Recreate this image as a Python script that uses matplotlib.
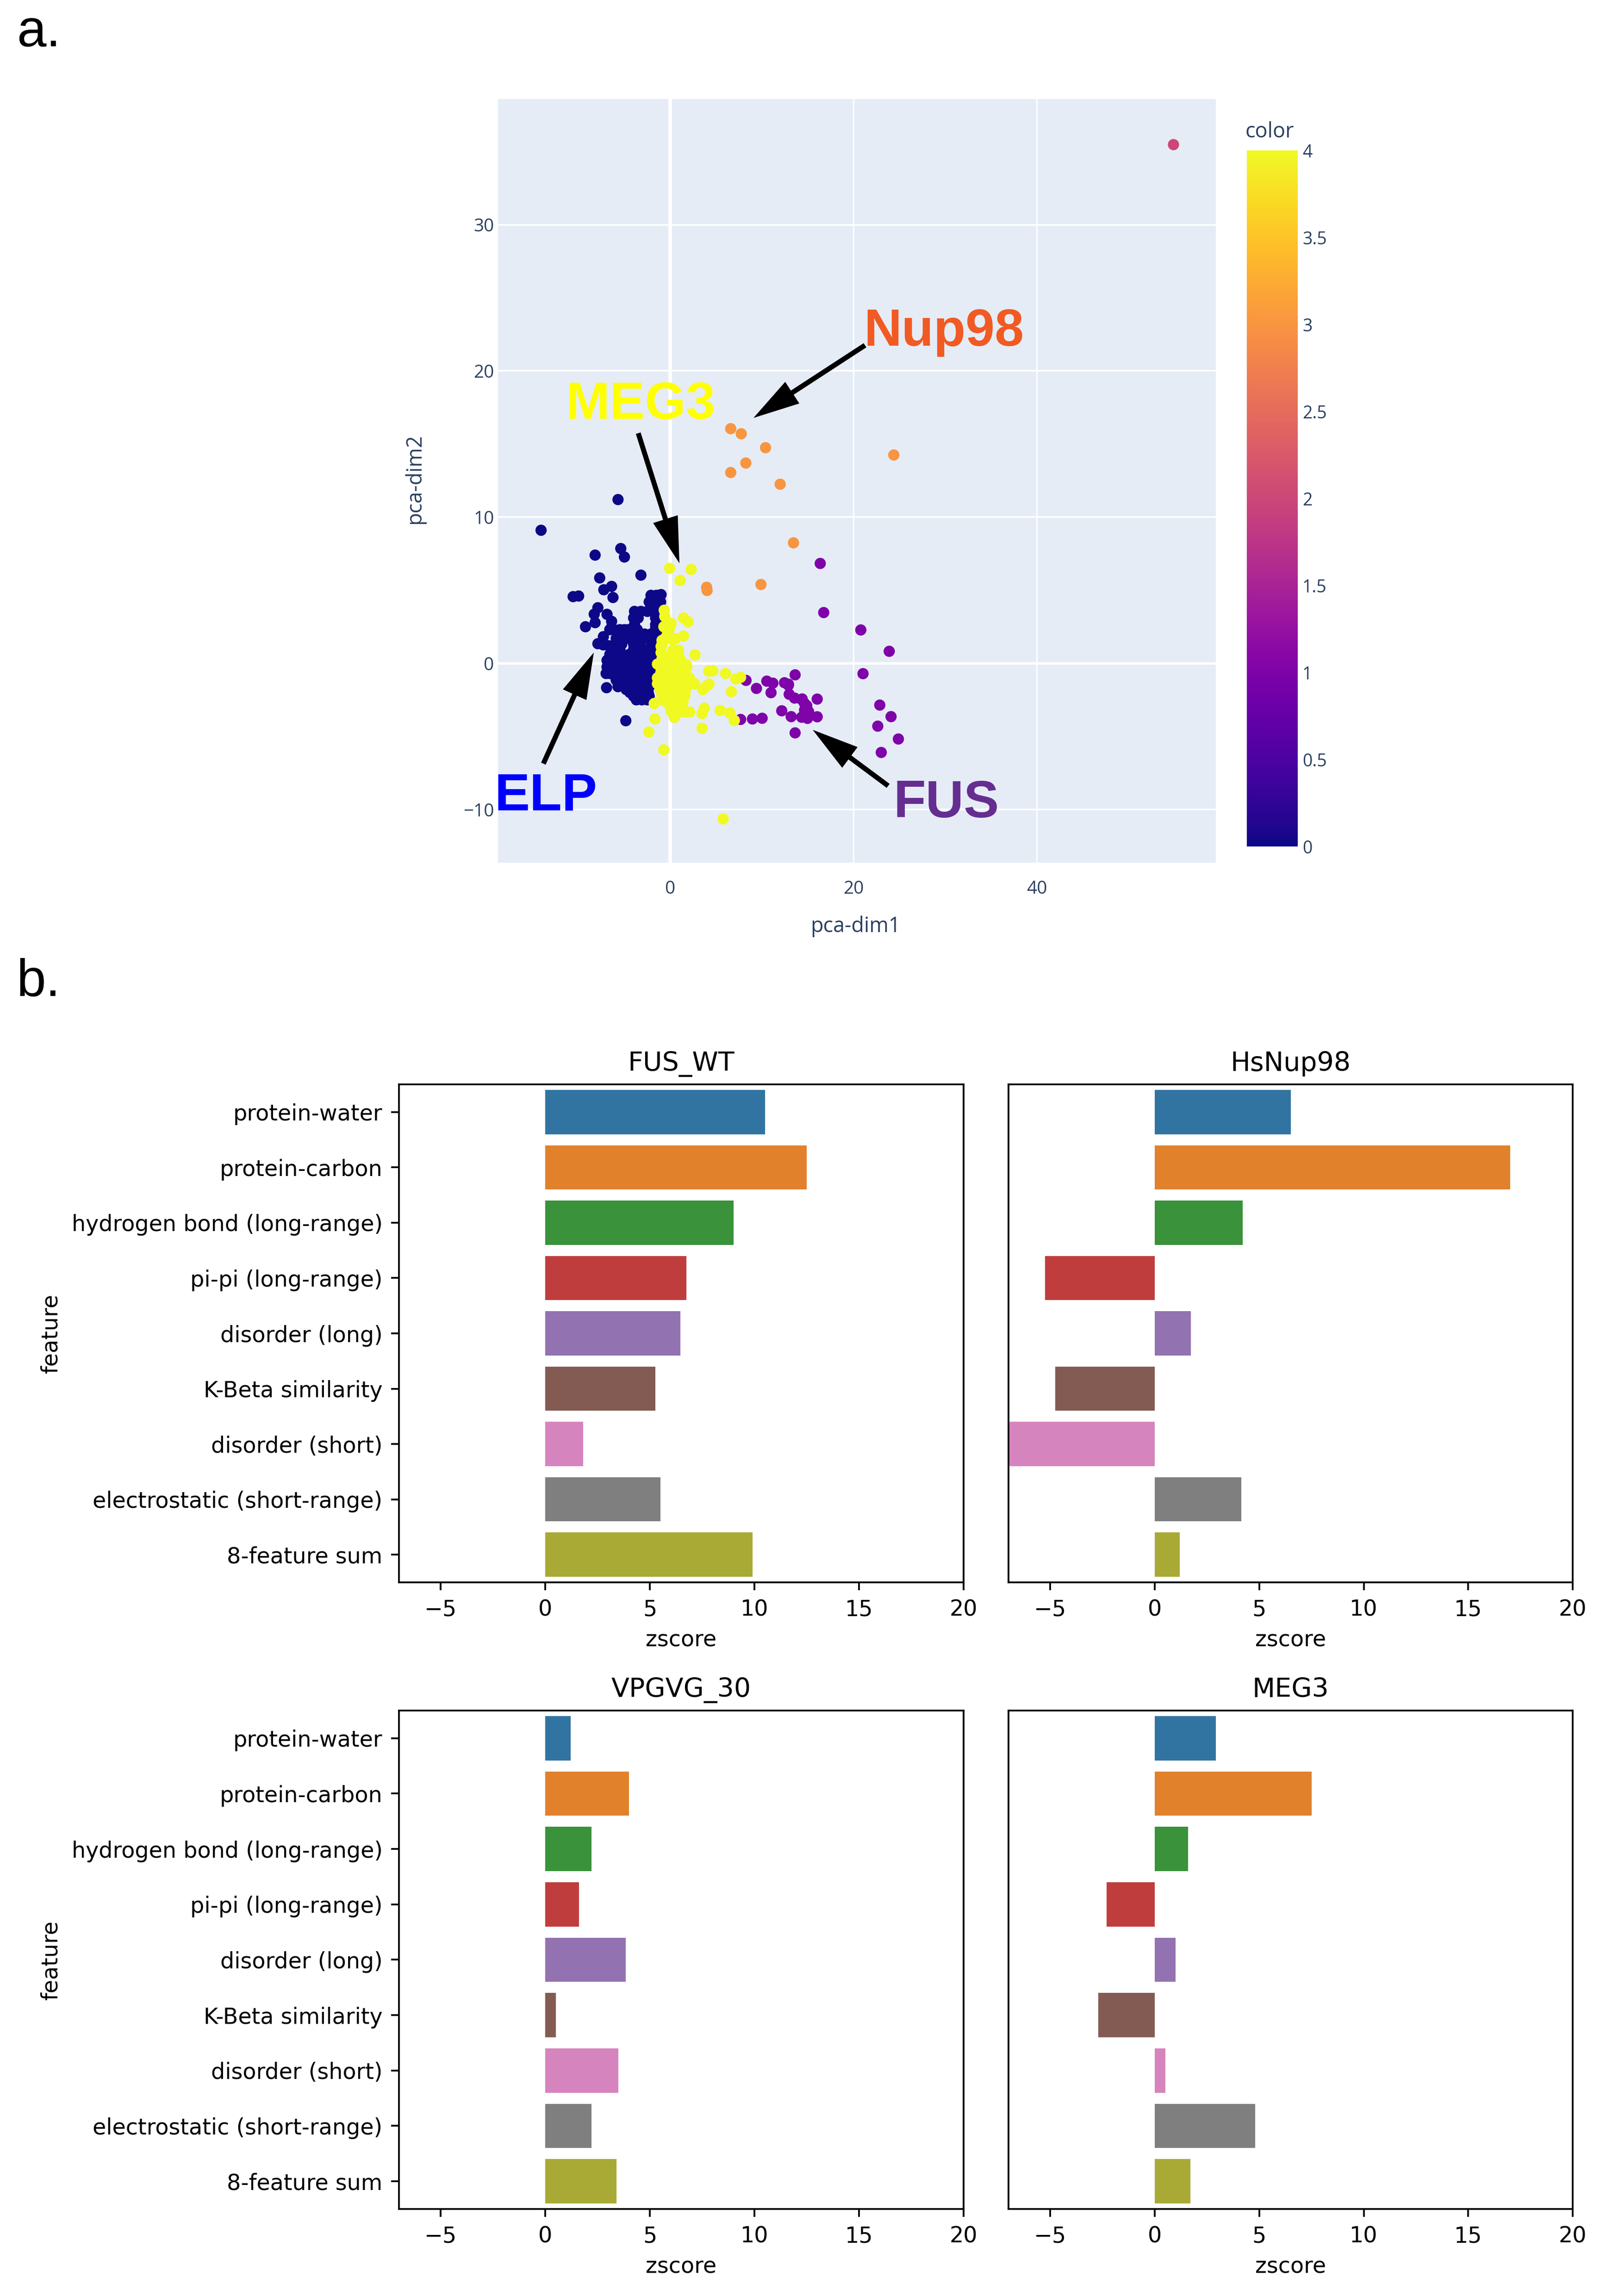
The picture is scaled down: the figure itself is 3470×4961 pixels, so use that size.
import matplotlib
matplotlib.use('Agg')
import matplotlib.pyplot as plt
import seaborn as sns
import numpy as np
from matplotlib.cm import ScalarMappable
from matplotlib.colors import Normalize
from matplotlib.patches import FancyArrowPatch

W, H = 3470, 4961

# ---- panel a: points, one pair of lists per group ----
elp_x = [-5.7, -14.1, -8.2, -5.4, -5.0, -3.2, -7.7, -6.4, -7.25, -10.6, -10.0, -6.25,
         -7.9, -8.3, -8.2, -9.25, -6.9, -6.4, -6.4, -6.6, -6.95, -4.85, -7.3, -7.9, -7.3, -6.7,
         -2.1, -1.5, -1.0, -2.3, -1.7, -1.05,
         -3.9, -3.2, -2.5, -1.8, -1.5, -4.0, -3.5, -1.6, -1.2, -3.9, -1.6, -3.9, -1.6,
         -5.6, -4.9, -4.2, -3.5, -2.8, -2.1, -1.4, -1.0,
         -5.9, -5.2, -4.5, -3.8, -3.1, -2.4, -1.7, -5.9, -5.3, -4.0, -3.3, -2.0,
         -6.2, -5.5, -4.0, -3.3, -2.6, -1.9, -6.6, -5.9, -5.2, -4.5, -3.8, -3.1, -2.4, -1.9,
         -6.9, -6.2, -5.5, -4.8, -4.1, -3.4, -2.7, -2.1, -6.9, -6.2, -5.5, -4.8, -4.1, -3.4, -2.6,
         -7.0, -6.6, -5.9, -5.2, -4.5, -3.8, -3.1, -2.4, -1.9,
         -5.9, -5.2, -4.5, -3.8, -3.1, -2.4, -1.9, -5.7, -5.0, -4.3, -3.6, -2.9, -2.3,
         -4.4, -3.7, -3.0, -2.4, -3.7, -3.1, -2.5,
         -5.5, -5.0, -4.6, -4.1, -3.6, -6.5, -5.8, -5.1, -4.4, -3.7, -3.0, -2.3,
         -6.5, -5.8, -5.1, -4.4, -3.7, -3.0, -2.3, -6.0, -5.4, -4.7, -4.0, -3.3, -2.6, -2.1,
         -5.3, -4.6, -3.9, -3.2, -2.5, -4.8, -4.0, -3.3, -2.6, -4.0, -3.4, -2.8, -2.3]
elp_y = [11.2, 9.1, 7.4, 7.85, 7.27, 6.03, 5.84, 5.26, 5.03, 4.56, 4.6, 4.5,
         3.8, 3.36, 2.78, 2.5, 3.35, 2.87, 2.47, 2.3, -1.67, -3.93, 1.82, 1.34, 1.26, 1.2,
         4.65, 4.65, 4.7, 4.2, 4.2, 4.2,
         3.55, 3.55, 3.55, 3.55, 3.55, 3.1, 3.1, 3.1, 3.1, 2.65, 2.65, 2.4, 2.4,
         2.0, 2.0, 2.0, 2.0, 2.0, 2.0, 2.0, 2.0,
         1.7, 1.7, 1.7, 1.7, 1.7, 1.7, 1.7, 1.3, 1.3, 1.3, 1.3, 1.3,
         0.95, 0.95, 0.95, 0.95, 0.95, 0.95, 0.6, 0.6, 0.6, 0.6, 0.6, 0.6, 0.6, 0.6,
         0.2, 0.2, 0.2, 0.2, 0.2, 0.2, 0.2, 0.2, -0.25, -0.25, -0.25, -0.25, -0.25, -0.25, -0.25,
         -0.7, -0.7, -0.7, -0.7, -0.7, -0.7, -0.7, -0.7, -0.7,
         -1.15, -1.15, -1.15, -1.15, -1.15, -1.15, -1.15, -1.6, -1.6, -1.6, -1.6, -1.6, -1.6,
         -2.0, -2.0, -2.0, -2.0, -2.5, -2.5, -2.5,
         2.3, 2.3, 2.3, 2.3, 2.3, 0.0, 0.0, 0.0, 0.0, 0.0, 0.0, 0.0,
         -0.45, -0.45, -0.45, -0.45, -0.45, -0.45, -0.45, -0.9, -0.9, -0.9, -0.9, -0.9, -0.9, -0.9,
         -1.35, -1.35, -1.35, -1.35, -1.35, -1.8, -1.8, -1.8, -1.8, -2.25, -2.25, -2.25, -2.25]

fus_x = [16.37, 16.75, 20.8, 23.9, 21.04, 22.87, 24.1, 22.65, 24.9, 23.03, 13.63, 8.27, 9.41, 10.54, 11.2, 11.0,
         12.47, 12.9, 12.9, 12.98, 13.57, 14.4, 16.04, 14.34, 14.66, 14.66, 12.17, 13.2, 14.34, 14.98, 16.04, 7.68,
         8.97, 10.03, 13.63, 14.9, 15.1]
fus_y = [6.83, 3.47, 2.28, 0.82, -0.71, -2.86, -3.65, -4.3, -5.18, -6.1, -0.79, -1.17, -1.72, -1.22, -1.36, -2.01,
         -1.33, -1.43, -1.5, -2.12, -2.38, -2.44, -2.45, -2.48, -2.75, -3.2, -3.25, -3.65, -3.69, -3.77, -3.66, -3.84,
         -3.81, -3.76, -4.76, -2.9, -3.3]

nup_x = [6.6, 7.75, 10.4, 8.25, 6.6, 12.0, 24.4, 13.45, 9.9, 3.97, 4.02]
nup_y = [16.05, 15.7, 14.75, 13.7, 13.05, 12.25, 14.25, 8.24, 5.39, 5.2, 4.98]

pink_x = [54.9]
pink_y = [35.5]

meg_x = [-0.07, 2.29, 1.08, -0.66, -0.32, 0.1, 1.45, 1.95, 1.45, 0.52, -0.9, -0.32, -0.07, -1.0, 2.71,
         -1.0, -0.07, 0.94, -1.4, -0.4, 0.6, 1.78, 1.1,
         4.2, 4.65, 6.04, 7.17, 7.68, 3.89, 4.23, 3.55, 6.67,
         -1.0, -0.3, 0.4, 1.0, -1.4, -0.7, 0.0, 0.7, 1.4, 2.1, -1.4, -0.7, 0.0, 0.7, 1.4, 2.1, 2.65,
         -1.1, -0.4, 0.3, 1.0, 1.7, -0.9, -0.2, 0.5, 1.2, 1.6, -0.6, 0.1, 0.8, 1.4,
         -1.75, -1.67, -2.34, -0.69, 5.78, 3.47, 0.44, 0.1, 0.94, 2.12, 1.6, 3.72, 3.47, 5.45, 6.5, 7.0, 0.44, 0.0,
         -0.6, -0.7, -0.2, -0.9, -0.5, 0.2, 0.3, 0.9, -0.9, -0.2, 0.5, 1.1, -1.0, -0.3, 0.4, 1.1, 1.8,
         -1.1, -0.4, 0.3, 1.0, 1.7, -0.8, -0.1, 0.6, 1.3, -0.5, 0.2, 0.9, 0.2, 1.3]
meg_y = [6.5, 6.42, 5.66, 3.63, 2.84, 2.73, 3.1, 2.84, 1.87, 1.68, 1.57, 2.2, 2.4, 1.15, 0.57,
         0.73, 0.52, 0.46, -0.06, 0.0, 0.0, -0.12, -0.05,
         -0.54, -0.52, -0.7, -1.07, -0.96, -1.6, -1.43, -1.8, -1.94,
         -0.55, -0.55, -0.55, -0.55, -1.0, -1.0, -1.0, -1.0, -1.0, -1.0, -1.4, -1.4, -1.4, -1.4, -1.4, -1.4, -1.4,
         -1.8, -1.8, -1.8, -1.8, -1.8, -2.2, -2.2, -2.2, -2.2, -2.2, -2.6, -2.6, -2.6, -2.6,
         -2.75, -3.81, -4.7, -5.92, -10.65, -4.44, -3.7, -3.28, -3.33, -3.33, -3.33, -3.07, -3.44, -3.23, -3.39, -3.91,
         -2.96, -2.9,
         3.2, 2.5, 2.0, 1.3, 1.75, 1.6, 0.9, 0.9, 0.3, 0.3, 0.3, 0.3, -0.25, -0.25, -0.25, -0.25, -0.25,
         -0.8, -0.8, -0.8, -0.8, -0.8, -1.6, -1.6, -1.6, -1.6, -2.4, -2.4, -2.4, -3.0, -2.95]

# group value on the colour scale, drawing order as in the picture
groups = [(elp_x, elp_y, 0), (fus_x, fus_y, 1), (nup_x, nup_y, 3), (pink_x, pink_y, 2), (meg_x, meg_y, 4)]

cbar_ticks = [0, 0.5, 1, 1.5, 2, 2.5, 3, 3.5, 4]
cbar_labels = ['0', '0.5', '1', '1.5', '2', '2.5', '3', '3.5', '4']

# ---- panel b ----
features = ['protein-water', 'protein-carbon', 'hydrogen bond (long-range)', 'pi-pi (long-range)',
            'disorder (long)', 'K-Beta similarity', 'disorder (short)', 'electrostatic (short-range)',
            '8-feature sum']
fus_wt = [10.5, 12.5, 9.0, 6.75, 6.45, 5.25, 1.8, 5.5, 9.9]
hs_nup98 = [6.5, 17.0, 4.2, -5.24, 1.73, -4.76, -7.2, 4.14, 1.2]
vpgvg_30 = [1.2, 4.0, 2.2, 1.6, 3.85, 0.5, 3.5, 2.2, 3.4]
meg3 = [2.93, 7.5, 1.6, -2.3, 1.0, -2.7, 0.5, 4.8, 1.7]

plt.rcParams['font.family'] = ['DejaVu Sans']
plt.rcParams['font.size'] = 11.45
plt.rcParams['axes.linewidth'] = 0.9
plt.rcParams['xtick.major.size'] = 4
plt.rcParams['ytick.major.size'] = 4
plt.rcParams['xtick.major.width'] = 0.9
plt.rcParams['ytick.major.width'] = 0.9
plt.rcParams['xtick.major.pad'] = 4.5
plt.rcParams['ytick.major.pad'] = 4.5

fig = plt.figure(figsize=((W + 0.01) / 300, (H + 0.01) / 300), dpi=300)


def rect(left, top, right, bottom):
    return [left / W, 1 - bottom / H, (right - left) / W, (bottom - top) / H]


def put(x, y, s, **kw):
    return fig.text(x / W, 1 - y / H, s, **kw)


def arrow(x0, y0, x1, y1, tail=2.6):
    style = 'simple,head_length=24,head_width=13.4,tail_width=%s' % tail
    fig.add_artist(FancyArrowPatch((x0 / W, 1 - y0 / H), (x1 / W, 1 - y1 / H), transform=fig.transFigure,
                                   arrowstyle=style, mutation_scale=1, color='black', lw=0,
                                   shrinkA=0, shrinkB=0))


# panel a
plotly_font = 'Open Sans'
plotly_ink = '#2a3f5f'
ax = fig.add_axes(rect(1076, 214, 2627, 1864))
ax.set_facecolor('#e5ecf6')
for s in ax.spines.values():
    s.set_visible(False)
ax.set_xlim(-18.8, 59.55)
ax.set_ylim(-13.64, 38.6)
ax.set_xticks([0, 20, 40])
ax.set_yticks([-10, 0, 10, 20, 30])
ax.set_yticklabels(['\u221210', '0', '10', '20', '30'])
ax.tick_params(length=0, labelsize=9.3, labelcolor=plotly_ink, pad=2)
ax.tick_params(axis='x', pad=9)
for lab in ax.get_xticklabels() + ax.get_yticklabels():
    lab.set_family(plotly_font)
ax.set_axisbelow(True)
ax.grid(True, axis='x', color='white', lw=0.7)
ax.grid(True, axis='y', color='white', lw=0.85)
ax.axvline(0, color='white', lw=1.9, zorder=1)
ax.axhline(0, color='white', lw=1.3, zorder=1)
for xs, ys, val in groups:
    ax.scatter(xs, ys, c=np.full(len(xs), val), cmap='plasma', vmin=0, vmax=4, s=34, lw=0, zorder=3)

put(1848, 2002, 'pca-dim1', family=plotly_font, size=10.8, color=plotly_ink, ha='center', va='center')
put(896, 1035, 'pca-dim2', family=plotly_font, size=10.8, color=plotly_ink, ha='center', va='center',
    rotation=90)

cax = fig.add_axes(rect(2694, 325, 2804, 1829))
cb = fig.colorbar(ScalarMappable(norm=Normalize(0, 4), cmap='plasma'), cax=cax)
cb.outline.set_visible(False)
cb.set_ticks(cbar_ticks)
cb.set_ticklabels(cbar_labels)
cax.tick_params(length=0, labelsize=9, labelcolor=plotly_ink, pad=2.4)
for lab in cax.get_yticklabels():
    lab.set_family(plotly_font)
put(2690, 285, 'color', family=plotly_font, size=10.8, color=plotly_ink, ha='left', va='center')

# call-outs
call_font = 'Liberation Sans'
put(1866, 747, 'Nup98', family=call_font, weight='bold', size=27.2, color='#f15a22', va='baseline')
put(1222, 905, 'MEG3', family=call_font, weight='bold', size=27.4, color='#ffff00', va='baseline')
put(1068, 1750, 'ELP', family=call_font, weight='bold', size=27.4, color='#0000ff', va='baseline')
put(1930, 1766, 'FUS', family=call_font, weight='bold', size=27.4, color='#662d91', va='baseline')
arrow(1869, 746, 1628, 903)
arrow(1379, 936, 1468, 1217)
arrow(1174, 1650, 1283, 1410)
arrow(1919, 1698, 1756, 1577)

put(36, 100, 'a.', family=call_font, size=27.4, color='black', va='baseline')
put(36, 2152, 'b.', family=call_font, size=27.4, color='black', va='baseline')

# panel b
panels = [(fus_wt, 'FUS_WT', 862, 2082, 2343, 3419, True),
          (hs_nup98, 'HsNup98', 2179, 3398, 2343, 3419, False),
          (vpgvg_30, 'VPGVG_30', 862, 2082, 3696, 4773, True),
          (meg3, 'MEG3', 2179, 3398, 3696, 4773, False)]
for vals, name, left, right, top, bottom, first_col in panels:
    a = fig.add_axes(rect(left, top, right, bottom))
    sns.barplot(x=vals, y=features, hue=features, palette='tab10', legend=False, ax=a)
    a.set_xlim(-7, 20)
    a.set_ylim(8.5, -0.5)
    a.set_xticks([-5, 0, 5, 10, 15, 20])
    a.set_title(name, fontsize=13.7, pad=7)
    a.set_xlabel('zscore', labelpad=4.5)
    if first_col:
        a.set_ylabel('feature', labelpad=5)
    else:
        a.set_ylabel('')
        a.tick_params(axis='y', left=False, labelleft=False)

fig.savefig('out.png', dpi=300)
